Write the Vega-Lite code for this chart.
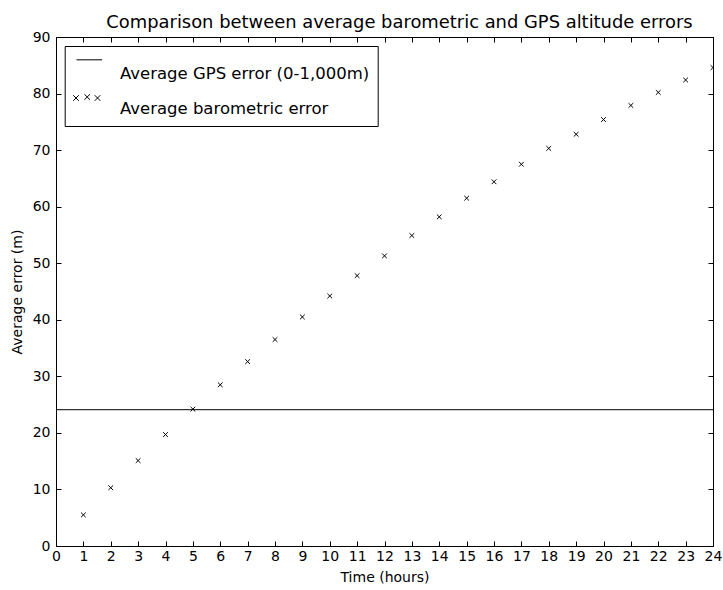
{
  "$schema": "https://vega.github.io/schema/vega-lite/v6.json",
  "autosize": "none",
  "width": 657,
  "height": 509,
  "padding": {"left": 56, "top": 37, "right": 10, "bottom": 44},
  "background": "white",
  "title": {
    "text": "Comparison between average barometric and GPS altitude errors",
    "font": "DejaVu Sans",
    "fontSize": 17.9,
    "fontWeight": "normal",
    "color": "black",
    "anchor": "middle",
    "dx": 15,
    "offset": -2
  },
  "config": {
    "view": {"stroke": "black", "strokeWidth": 1},
    "axis": {
      "grid": false,
      "labelFont": "DejaVu Sans",
      "labelFontSize": 14,
      "labelColor": "black",
      "titleFont": "DejaVu Sans",
      "titleFontSize": 14,
      "titleFontWeight": "normal",
      "titleColor": "black",
      "tickColor": "black",
      "domainColor": "black",
      "tickSize": -5,
      "labelFlush": false,
      "labelOverlap": false
    }
  },
  "resolve": {"axis": {"x": "independent", "y": "independent"}},
  "layer": [
    {
      "data": {
        "values": [
          {"hour": 1, "error": 5.5},
          {"hour": 2, "error": 10.3},
          {"hour": 3, "error": 15.1},
          {"hour": 4, "error": 19.7},
          {"hour": 5, "error": 24.2},
          {"hour": 6, "error": 28.5},
          {"hour": 7, "error": 32.6},
          {"hour": 8, "error": 36.5},
          {"hour": 9, "error": 40.5},
          {"hour": 10, "error": 44.2},
          {"hour": 11, "error": 47.8},
          {"hour": 12, "error": 51.3},
          {"hour": 13, "error": 54.9},
          {"hour": 14, "error": 58.2},
          {"hour": 15, "error": 61.5},
          {"hour": 16, "error": 64.4},
          {"hour": 17, "error": 67.5},
          {"hour": 18, "error": 70.3},
          {"hour": 19, "error": 72.8},
          {"hour": 20, "error": 75.4},
          {"hour": 21, "error": 77.9},
          {"hour": 22, "error": 80.2},
          {"hour": 23, "error": 82.4},
          {"hour": 24, "error": 84.6}
        ]
      },
      "mark": {"type": "point", "filled": false, "color": "black", "strokeWidth": 1, "size": 22, "opacity": 1, "clip": true, "shape": "M-1,-1L1,1M1,-1L-1,1"},
      "encoding": {
        "x": {
          "field": "hour", "type": "quantitative",
          "scale": {"domain": [0, 24], "nice": false, "zero": false},
          "axis": {"orient": "bottom", "values": [0,1,2,3,4,5,6,7,8,9,10,11,12,13,14,15,16,17,18,19,20,21,22,23,24], "title": "Time (hours)", "labelPadding": 8, "titlePadding": 7}
        },
        "y": {
          "field": "error", "type": "quantitative",
          "scale": {"domain": [0, 90], "nice": false},
          "axis": {"orient": "left", "values": [0,10,20,30,40,50,60,70,80,90], "title": "Average error (m)", "labelPadding": 11, "titlePadding": 8}
        }
      }
    },
    {
      "data": {"values": [{"gps": 24.1}]},
      "mark": {"type": "rule", "color": "black", "strokeWidth": 1},
      "encoding": {
        "x": {"datum": 0, "type": "quantitative", "axis": {"orient": "top", "values": [0,1,2,3,4,5,6,7,8,9,10,11,12,13,14,15,16,17,18,19,20,21,22,23,24], "labels": false, "title": null, "domain": false}},
        "x2": {"datum": 24},
        "y": {"field": "gps", "type": "quantitative", "axis": {"orient": "right", "values": [0,10,20,30,40,50,60,70,80,90], "labels": false, "title": null, "domain": false}}
      }
    },
    {
      "data": {"values": [{"series": "Average GPS error (0-1,000m)"}, {"series": "Average barometric error"}]},
      "mark": {"type": "point", "filled": false, "color": "black", "strokeWidth": 1, "size": 1444, "opacity": 0},
      "encoding": {
        "shape": {
          "field": "series", "type": "nominal",
          "scale": {
            "domain": ["Average GPS error (0-1,000m)", "Average barometric error"],
            "range": [
              "M-0.63,-0.72L0.72,-0.72",
              "M-0.805,-0.736L-0.511,-0.442M-0.511,-0.736L-0.805,-0.442M-0.215,-0.789L0.079,-0.495M0.079,-0.789L-0.215,-0.495M0.327,-0.736L0.621,-0.442M0.621,-0.736L0.327,-0.442"
            ]
          },
          "legend": {
            "title": null,
            "orient": "none",
            "legendX": 8.7,
            "legendY": 9,
            "strokeColor": "black",
            "fillColor": "white",
            "padding": 8,
            "symbolSize": 1444,
            "symbolOffset": -3.7,
            "symbolStrokeColor": "black",
            "symbolStrokeWidth": 1,
            "symbolOpacity": 1,
            "labelFont": "DejaVu Sans",
            "labelFontSize": 16.5,
            "labelColor": "black",
            "labelOffset": 11.9,
            "labelLimit": 400,
            "rowPadding": 7.7
          }
        }
      }
    }
  ]
}
